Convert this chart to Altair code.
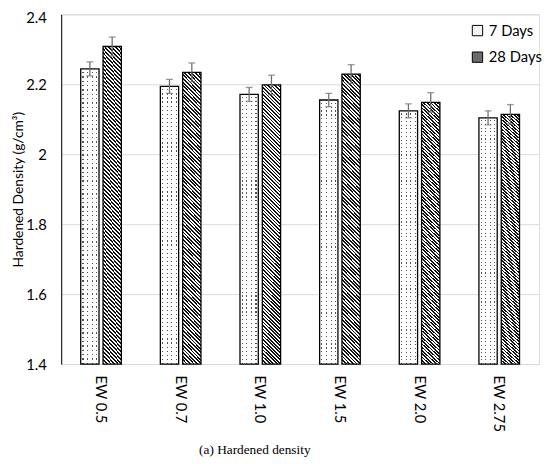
import altair as alt
import pandas as pd

# ---- data ----
categories = ["EW 0.5", "EW 0.7", "EW 1.0", "EW 1.5", "EW 2.0", "EW 2.75"]
series = ["7 Days", "28 Days"]
density_7 = [2.244, 2.194, 2.171, 2.155, 2.124, 2.104]
density_28 = [2.308, 2.234, 2.198, 2.229, 2.148, 2.114]
err_7 = [0.020, 0.020, 0.020, 0.019, 0.020, 0.020]
err_28 = [0.027, 0.027, 0.028, 0.027, 0.028, 0.028]
y_ticks = [1.4, 1.6, 1.8, 2.0, 2.2, 2.4]

rows = []
for c, v, e in zip(categories, density_7, err_7):
    rows.append({"mix": c, "age": series[0], "density": v, "err": e})
for c, v, e in zip(categories, density_28, err_28):
    rows.append({"mix": c, "age": series[1], "density": v, "err": e})
df = pd.DataFrame(rows)

# ---- layout ----
W, H = 485, 355
Y0, Y1 = 1.4, 2.4
band_pad = 0.49
off_pad = 0.18
step = W / len(categories)
bar_w = step * (1 - band_pad) / (2 - off_pad) * (1 - off_pad)


def px_h(v):
    return (v - Y0) / (Y1 - Y0) * H


# hatch pattern (diagonal "\\") for 28-day bars via a striped linear gradient
H28 = sum(px_h(v) for v in density_28) / len(density_28)
k = (bar_w + H28) / (bar_w ** 2 + H28 ** 2)
P = 3.6
n_h = int(round((bar_w + H28) / P))
hatch_stops = []
for i in range(n_h):
    a, b, c = i / n_h, (i + 0.5) / n_h, (i + 1) / n_h
    hatch_stops += [
        {"offset": a, "color": "#111111"},
        {"offset": b, "color": "#111111"},
        {"offset": b, "color": "#ffffff"},
        {"offset": c, "color": "#ffffff"},
    ]
hatch = {"gradient": "linear", "x1": 0, "y1": 1, "x2": k * bar_w, "y2": 1 - k * H28,
         "stops": hatch_stops}

# dotted pattern for 7-day bars: gray columns, masked by white rows
n_c = 4
col_stops = []
for i in range(n_c):
    a, b = (i + 0.38) / n_c, (i + 0.62) / n_c
    col_stops += [
        {"offset": i / n_c, "color": "#ffffff"},
        {"offset": a, "color": "#ffffff"},
        {"offset": a, "color": "#555555"},
        {"offset": b, "color": "#555555"},
        {"offset": b, "color": "#ffffff"},
        {"offset": (i + 1) / n_c, "color": "#ffffff"},
    ]
cols = {"gradient": "linear", "x1": 0, "y1": 0, "x2": 1, "y2": 0, "stops": col_stops}

H7 = sum(px_h(v) for v in density_7) / len(density_7)
n_r = int(round(H7 / 4.0))
row_stops = []
for i in range(n_r):
    a, b = i / n_r, (i + 0.7) / n_r
    row_stops += [
        {"offset": a, "color": "#ffffff"},
        {"offset": b, "color": "#ffffff"},
        {"offset": b, "color": "rgba(255,255,255,0)"},
        {"offset": (i + 1) / n_r, "color": "rgba(255,255,255,0)"},
    ]
rowsg = {"gradient": "linear", "x1": 0, "y1": 0, "x2": 0, "y2": 1, "stops": row_stops}

FONT = "Lato"

x_enc = alt.X(
    "mix:N",
    sort=categories,
    scale=alt.Scale(paddingInner=band_pad, paddingOuter=band_pad / 2),
    axis=alt.Axis(
        title=None, labelAngle=90, ticks=False, labelPadding=11, labelFont=FONT,
        labelFontSize=15, labelColor="#000000", domain=False, grid=False,
    ),
)
xo_enc = alt.XOffset("age:N", sort=series,
                     scale=alt.Scale(domain=series, paddingInner=off_pad, paddingOuter=0))
y_enc = alt.Y(
    "density:Q",
    scale=alt.Scale(domain=[Y0, Y1], zero=False, nice=False),
    axis=alt.Axis(
        title="Hardened Density (g/cm³)", values=y_ticks, format=".1~f",
        ticks=False, labelPadding=15, labelFont=FONT, labelFontSize=15,
        labelOffset={"condition": {"test": "datum.value >= 2.39", "value": 3}, "value": 0},
        labelColor="#000000", titleFont=FONT, titleFontSize=14,
        titleFontWeight="normal", titleColor="#000000", titlePadding=0,
        gridColor="#d9d9d9", gridWidth=1, domainColor="#000000",
    ),
)

base = alt.Chart(df)

bars = base.mark_bar().encode(
    x=x_enc, xOffset=xo_enc, y=y_enc, y2=alt.datum(Y0),
    color=alt.Color(
        "age:N", sort=series,
        scale=alt.Scale(domain=series, range=["#f3f3f3", "#6b6b6b"]),
        legend=alt.Legend(
            title=None, orient="none", legendX=415, legendY=9,
            symbolType="square", symbolSize=110, symbolStrokeColor="#000000",
            symbolStrokeWidth=1, labelFont=FONT, labelFontSize=15,
            labelColor="#000000", rowPadding=11, labelOffset=4,
        ),
    ),
)

hatch_layer = base.transform_filter(alt.datum.age == series[1]).mark_bar(fill=hatch).encode(
    x=x_enc, xOffset=xo_enc, y=y_enc, y2=alt.datum(Y0))
cols_layer = base.transform_filter(alt.datum.age == series[0]).mark_bar(fill=cols).encode(
    x=x_enc, xOffset=xo_enc, y=y_enc, y2=alt.datum(Y0))
rows_layer = base.transform_filter(alt.datum.age == series[0]).mark_bar(fill=rowsg).encode(
    x=x_enc, xOffset=xo_enc, y=y_enc, y2=alt.datum(Y0))
outline = base.mark_bar(fillOpacity=0, stroke="#000000", strokeWidth=1.3).encode(
    x=x_enc, xOffset=xo_enc, y=y_enc, y2=alt.datum(Y0))

eb = base.transform_calculate(
    lo="datum.density - datum.err", hi="datum.density + datum.err")
err_rule = eb.mark_rule(color="#6f6f6f", strokeWidth=1.3).encode(
    x=x_enc, xOffset=xo_enc, y=alt.Y("lo:Q"), y2="hi:Q")
cap_lo = eb.mark_tick(color="#6f6f6f", thickness=1.3, size=7, orient="horizontal").encode(
    x=x_enc, xOffset=xo_enc, y=alt.Y("lo:Q"))
cap_hi = eb.mark_tick(color="#6f6f6f", thickness=1.3, size=7, orient="horizontal").encode(
    x=x_enc, xOffset=xo_enc, y=alt.Y("hi:Q"))

chart = alt.layer(
    bars, hatch_layer, cols_layer, rows_layer, outline, err_rule, cap_lo, cap_hi
).properties(
    width=W, height=H,
    autosize=alt.AutoSizeParams(type="none"),
    padding={"left": 54, "top": 3, "right": 3, "bottom": 98},
    title=alt.TitleParams(
        "(a) Hardened density", orient="bottom", anchor="middle", dx=-46,
        font="Liberation Serif", fontSize=13.5, fontWeight="normal",
        color="#000000", offset=12,
    ),
).configure_view(
    stroke="#000000", strokeWidth=1
).configure(background="#ffffff")

chart.save("out.html", embed_options={"renderer": "svg", "actions": False})
